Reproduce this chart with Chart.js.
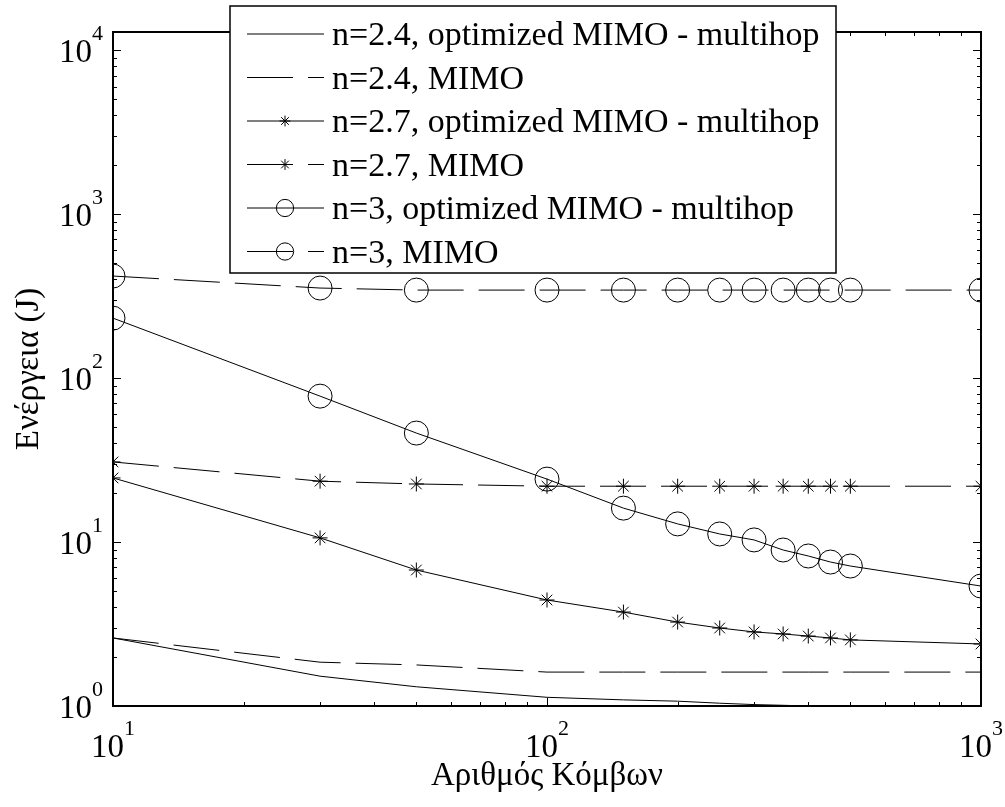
<!DOCTYPE html>
<html>
<head>
<meta charset="utf-8">
<script src="https://cdn.jsdelivr.net/npm/chart.js@4.4.0/dist/chart.umd.min.js"></script>
<style>
    html, body { margin: 0; padding: 0; background: #fff; }
    #wrap { width: 1005px; height: 807px; }
</style>
</head>
<body>
<div id="wrap"><canvas id="energy"></canvas></div>
<script>
        // number of nodes (x) and energy values (J)
        var nodes = [10, 30, 50, 100, 150, 200, 250, 300, 350, 400, 450, 500, 1000];
        var opt24 = [2.60, 1.52, 1.31, 1.13, 1.09, 1.07, 1.04, 1.02, 1.01, 1.00, 1.00, 0.99, 0.90];
        var mimo24 = [2.60, 1.85, 1.78, 1.61, 1.61, 1.61, 1.61, 1.61, 1.61, 1.61, 1.61, 1.61, 1.61];
        var opt27 = [24.6, 10.6, 6.75, 4.43, 3.74, 3.25, 2.99, 2.83, 2.75, 2.67, 2.60, 2.53, 2.39];
        var mimo27 = [30.8, 23.5, 22.6, 21.9, 21.9, 21.9, 21.9, 21.9, 21.9, 21.9, 21.9, 21.9, 21.9];
        var opt3 = [232, 77.6, 46.2, 24.2, 16.1, 12.9, 11.2, 10.3, 8.94, 8.22, 7.55, 7.14, 5.39];
        var mimo3 = [419, 354, 344, 344, 344, 344, 344, 344, 344, 344, 344, 344, 344];

        var seriesLabels = [
            'n=2.4, optimized MIMO - multihop',
            'n=2.4, MIMO',
            'n=2.7, optimized MIMO - multihop',
            'n=2.7, MIMO',
            'n=3, optimized MIMO - multihop',
            'n=3, MIMO'
        ];
        var xTicks = [10, 100, 1000];
        var yTicks = [1, 10, 100, 1000, 10000];
        var xTitle = 'Αριθμός Κόμβων';
        var yTitle = 'Ενέργεια (J)';

        var serif = '"Liberation Serif", "Times New Roman", serif';
        var dash = [46, 15];

        function pts(values) {
            return nodes.map(function(n, i) { return {x: n, y: values[i]}; });
        }

        function series(label, values, dashed, marker, radius) {
            return {
                label: label,
                data: pts(values),
                borderColor: '#000',
                borderWidth: 1,
                borderDash: dashed ? dash : [],
                pointStyle: marker || 'circle',
                pointRadius: marker ? radius : 0,
                pointBorderColor: '#000',
                pointBackgroundColor: 'rgba(0,0,0,0)',
                pointBorderWidth: 1,
                fill: false,
                tension: 0
            };
        }

        function sup(ctx, base, exp, x, y, align) {
            ctx.font = '33px ' + serif;
            var wb = ctx.measureText(base).width;
            ctx.font = '22px ' + serif;
            var we = ctx.measureText(exp).width;
            var left = align === 'right' ? x - wb - we : x - (wb + we) / 2;
            ctx.textAlign = 'left';
            ctx.textBaseline = 'alphabetic';
            ctx.font = '33px ' + serif;
            ctx.fillText(base, left, y);
            ctx.font = '22px ' + serif;
            ctx.fillText(exp, left + wb, y - 22);
        }

        var framePlugin = {
            id: 'frame',
            afterDraw: function(chart) {
                var ctx = chart.ctx;
                var a = chart.chartArea;
                var xs = chart.scales.x, ys = chart.scales.y;
                ctx.save();
                ctx.strokeStyle = '#000';
                ctx.fillStyle = '#000';

                // inward ticks on all four sides
                ctx.lineWidth = 1;
                ctx.beginPath();
                yTicks.forEach(function(d) {
                    for (var k = 1; k <= 9; k++) {
                        var v = d * k;
                        if (v < ys.min || v > ys.max) continue;
                        var y = Math.round(ys.getPixelForValue(v)) + 0.5;
                        var len = k === 1 ? 8 : 4;
                        ctx.moveTo(a.left, y); ctx.lineTo(a.left + len, y);
                        ctx.moveTo(a.right, y); ctx.lineTo(a.right - len, y);
                    }
                });
                xTicks.forEach(function(d) {
                    for (var k = 1; k <= 9; k++) {
                        var v = d * k;
                        if (v < xs.min || v > xs.max) continue;
                        var x = Math.round(xs.getPixelForValue(v)) + 0.5;
                        var len = k === 1 ? 8 : 4;
                        ctx.moveTo(x, a.bottom); ctx.lineTo(x, a.bottom - len);
                        ctx.moveTo(x, a.top); ctx.lineTo(x, a.top + len);
                    }
                });
                ctx.stroke();

                // box
                ctx.lineWidth = 2;
                ctx.strokeRect(a.left, a.top, a.right - a.left, a.bottom - a.top);

                // tick labels 10^k
                yTicks.forEach(function(v) {
                    var y = ys.getPixelForValue(v);
                    sup(ctx, '10', String(Math.round(Math.log10(v))), a.left - 10, y + 12, 'right');
                });
                xTicks.forEach(function(v) {
                    var x = xs.getPixelForValue(v);
                    sup(ctx, '10', String(Math.round(Math.log10(v))), x, a.bottom + 51, 'center');
                });

                // axis titles
                ctx.font = '33px ' + serif;
                ctx.textAlign = 'center';
                ctx.textBaseline = 'alphabetic';
                ctx.fillText(xTitle, (a.left + a.right) / 2, 785);
                ctx.save();
                ctx.translate(38, (a.top + a.bottom) / 2);
                ctx.rotate(-Math.PI / 2);
                ctx.fillText(yTitle, 0, 0);
                ctx.restore();

                // legend
                var lx = 230, ly = 6, lw = 606, lh = 267;
                ctx.fillStyle = '#fff';
                ctx.fillRect(lx, ly, lw, lh);
                ctx.lineWidth = 1.5;
                ctx.strokeRect(lx, ly, lw, lh);
                chart.data.datasets.forEach(function(ds, i) {
                    var cy = 34 + i * 43.5;
                    ctx.lineWidth = 1;
                    ctx.strokeStyle = '#000';
                    ctx.setLineDash(ds.borderDash);
                    ctx.beginPath();
                    ctx.moveTo(247, cy); ctx.lineTo(324, cy);
                    ctx.stroke();
                    ctx.setLineDash([]);
                    if (ds.pointRadius > 0) {
                        ctx.fillStyle = 'rgba(0,0,0,0)';
                        Chart.helpers.drawPoint(ctx, {
                            pointStyle: ds.pointStyle,
                            radius: ds.pointRadius * 0.72,
                            rotation: 0,
                            borderWidth: 1
                        }, 285, cy);
                    }
                    ctx.fillStyle = '#000';
                    ctx.font = '34px ' + serif;
                    ctx.textAlign = 'left';
                    ctx.textBaseline = 'alphabetic';
                    ctx.fillText(ds.label, 332, cy + 11);
                });
                ctx.restore();
            }
        };

        var ctx = document.getElementById('energy').getContext('2d');
        var chart = new Chart(ctx, {
            type: 'line',
            data: {
                datasets: [
                    series(seriesLabels[0], opt24, false),
                    series(seriesLabels[1], mimo24, true),
                    series(seriesLabels[2], opt27, false, 'star', 7.5),
                    series(seriesLabels[3], mimo27, true, 'star', 7.5),
                    series(seriesLabels[4], opt3, false, 'circle', 12),
                    series(seriesLabels[5], mimo3, true, 'circle', 12)
                ]
            },
            options: {
                responsive: true,
                maintainAspectRatio: false,
                animation: false,
                devicePixelRatio: 1,
                layout: {padding: {left: 113, top: 32, right: 24, bottom: 101}},
                plugins: {legend: {display: false}, tooltip: {enabled: false}},
                scales: {
                    x: {type: 'logarithmic', min: 10, max: 1000, display: false},
                    y: {type: 'logarithmic', min: 1, max: 12900, display: false}
                }
            },
            plugins: [framePlugin]
        });
</script>
</body>
</html>
